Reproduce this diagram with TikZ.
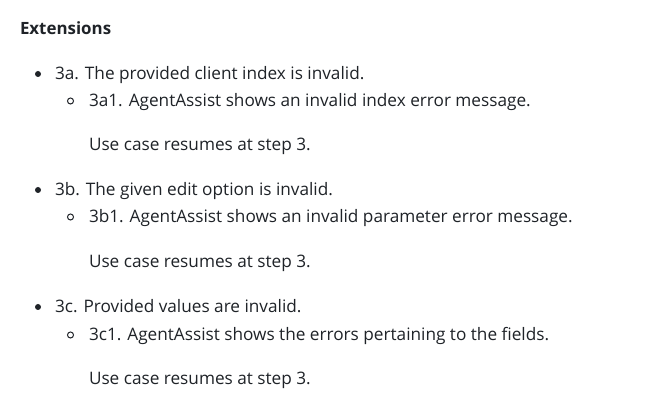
\documentclass[tikz,border=0pt]{standalone}
\usepackage{fontspec}
\setmainfont{Open Sans}
\definecolor{txt}{HTML}{1F2328}
\begin{document}
\begin{tikzpicture}[x=1pt,y=-1pt,
  txtnode/.style={anchor=base west,inner sep=0pt,outer sep=0pt,text=txt,font=\fontsize{17.2}{20}\selectfont},
  headnode/.style={txtnode,font=\fontsize{16.9}{20}\selectfont\bfseries},
  disc/.style={circle,fill=txt,inner sep=0pt,minimum size=6pt},
  ring/.style={circle,draw=txt,line width=1pt,inner sep=0pt,minimum size=6pt}]
\useasboundingbox[fill=white] (0,0) rectangle (657,411);
\node[headnode] (h) at (20,35) {Extensions};
% group a
\node[disc] (ba) at (38,74) {};
\node[txtnode] (a) at (55,80) {3a. The provided client index is invalid.};
\node[ring] (ba1) at (70.5,101) {};
\node[txtnode] (a1) at (89,107) {3a1. AgentAssist shows an invalid index error message.};
\node[txtnode] (ua) at (89,151) {Use case resumes at step 3.};
% group b
\node[disc] (bb) at (38,190) {};
\node[txtnode] (b) at (55,196) {3b. The given edit option is invalid.};
\node[ring] (bb1) at (70.5,217) {};
\node[txtnode] (b1) at (89,223) {3b1. AgentAssist shows an invalid parameter error message.};
\node[txtnode] (ub) at (89,268) {Use case resumes at step 3.};
% group c
\node[disc] (bc) at (38,307) {};
\node[txtnode] (c) at (55,313) {3c. Provided values are invalid.};
\node[ring] (bc1) at (70.5,335) {};
\node[txtnode] (c1) at (89,341) {3c1. AgentAssist shows the errors pertaining to the fields.};
\node[txtnode] (uc) at (89,385) {Use case resumes at step 3.};
\end{tikzpicture}
\end{document}
